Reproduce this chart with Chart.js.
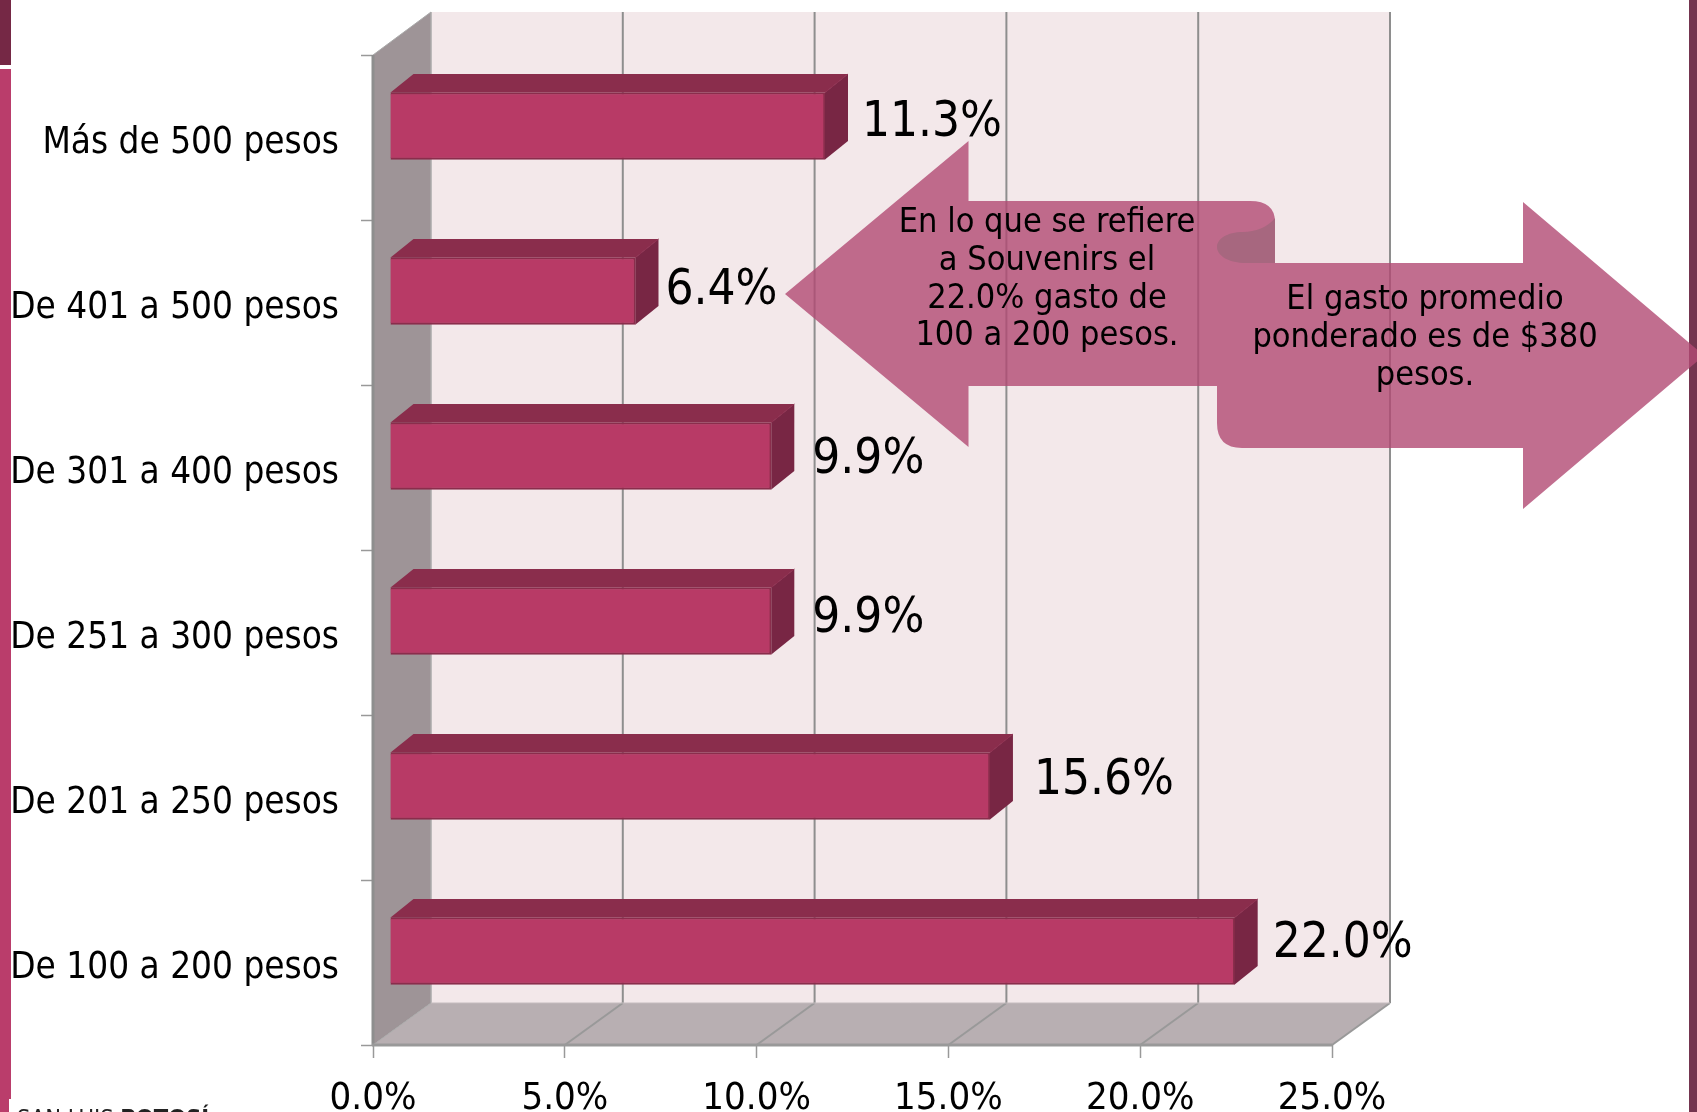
<!DOCTYPE html>
<html><head><meta charset="utf-8">
<style>html,body{margin:0;padding:0;background:#fff;overflow:hidden}canvas{display:block}</style>
<script src="https://cdn.jsdelivr.net/npm/chart.js@4"></script>
</head><body><canvas id="c" width="1697" height="1112"></canvas>
<script>
const categories = ["Más de 500 pesos","De 401 a 500 pesos","De 301 a 400 pesos","De 251 a 300 pesos","De 201 a 250 pesos","De 100 a 200 pesos"];
const gastoValues = [11.34,6.4,9.94,9.94,15.64,22.02];
const valueTicks = [0,5,10,15,20,25];
const noteLeft = ["En lo que se refiere","a Souvenirs el","22.0% gasto de","100 a 200 pesos."];
const noteRight = ["El gasto promedio","ponderado es de $380","pesos."];

const FF = '"DejaVu Sans Condensed","DejaVu Sans",sans-serif';
const DEPTH_X = 58, DEPTH_Y = 42, BAR_DX = 17, BAR_DY = -11.5, BAR_DEPTH_X = 23, BAR_DEPTH_Y = 18.5;
const LABEL_DX = [37,30,41,41,44,38], LABEL_DY = [-14.5,-11.5,-7.5,-13.5,-16.5,-18.5];

function poly(ctx, pts, fill){ ctx.beginPath(); pts.forEach((p,i)=> i?ctx.lineTo(p[0],p[1]):ctx.moveTo(p[0],p[1])); ctx.closePath(); ctx.fillStyle=fill; ctx.fill(); }
function line(ctx,x0,y0,x1,y1,color,w){ ctx.beginPath(); ctx.moveTo(x0,y0); ctx.lineTo(x1,y1); ctx.strokeStyle=color; ctx.lineWidth=w; ctx.stroke(); }

const frame3d = {
  id:'frame3d',
  beforeDraw(chart){
    const c = chart.ctx;
    c.save();
    c.fillStyle='#fff'; c.fillRect(0,0,chart.width,chart.height);
    c.fillStyle='#752845'; c.fillRect(0,0,11,65);
    c.fillStyle='#BA3D6B'; c.fillRect(0,69,11,1043);
    c.fillStyle='#74354F'; c.fillRect(1689,0,8,1112);
    c.restore();
  },
  beforeDatasetsDraw(chart){
    const c = chart.ctx, a = chart.chartArea, x = chart.scales.x;
    c.save();
    const L=a.left,R=a.right,T=a.top,B=a.bottom;
    poly(c,[[L+DEPTH_X,T-DEPTH_Y-1],[R+DEPTH_X,T-DEPTH_Y-1],[R+DEPTH_X,B-DEPTH_Y],[L+DEPTH_X,B-DEPTH_Y]],'#F3E8EA');
    poly(c,[[L,T],[L+DEPTH_X,T-DEPTH_Y-1],[L+DEPTH_X,B-DEPTH_Y],[L,B]],'#9E9497');
    poly(c,[[L,B],[L+DEPTH_X,B-DEPTH_Y],[R+DEPTH_X,B-DEPTH_Y],[R,B]],'#B8AFB2');
    valueTicks.forEach((v,i)=>{
      const px = x.getPixelForValue(v);
      if(i>0){ line(c,px+DEPTH_X,T-DEPTH_Y-1,px+DEPTH_X,B-DEPTH_Y,'#8E8E8E',2);
               line(c,px,B,px+DEPTH_X,B-DEPTH_Y,'#999',2); }
    });
    line(c,L,T,L+DEPTH_X,T-DEPTH_Y-1,'#aaa',1);
    line(c,L+DEPTH_X,T-DEPTH_Y-1,L+DEPTH_X,B-DEPTH_Y,'#aaa',1.5);
    line(c,L,T,L,B,'#8E8E8E',3);
    line(c,L,B,L+DEPTH_X,B-DEPTH_Y,'#aaa',1);
    line(c,L+DEPTH_X,B-DEPTH_Y,R+DEPTH_X,B-DEPTH_Y,'#c4bcbe',1);
    line(c,L-1,B,R,B,'#999',3);
    c.restore();
    c.save(); c.translate(BAR_DX,BAR_DY);
  },
  afterDatasetsDraw(chart){
    const c = chart.ctx;
    c.restore();
    c.save();
    chart.getDatasetMeta(0).data.forEach((el,i)=>{
      const h = el.height/2, x0=el.base+BAR_DX, x1=el.x+BAR_DX, t=el.y-h+BAR_DY, b=el.y+h+BAR_DY;
      poly(c,[[x0,t],[x0+BAR_DEPTH_X,t-BAR_DEPTH_Y],[x1+BAR_DEPTH_X,t-BAR_DEPTH_Y],[x1,t]],'#8A2D4C');
      poly(c,[[x1,t],[x1+BAR_DEPTH_X,t-BAR_DEPTH_Y],[x1+BAR_DEPTH_X,b-BAR_DEPTH_Y],[x1,b]],'#782644');
      line(c,x1,t,x1+BAR_DEPTH_X,t-BAR_DEPTH_Y,'#8F2F50',1);
      c.font='49px '+FF; c.fillStyle='#000'; c.textAlign='left'; c.textBaseline='middle';
      c.fillText(gastoValues[i].toFixed(1)+'%', x1+LABEL_DX[i], chart.scales.y.getPixelForValue(i)+LABEL_DY[i]);
    });
    c.restore();
  },
  afterDraw(chart){
    const c = chart.ctx;
    c.save();
    // callout arrows
    c.beginPath();
    c.moveTo(785,294); c.lineTo(968.5,141); c.lineTo(968.5,201); c.lineTo(1250,201);
    c.quadraticCurveTo(1275,201,1275,222); c.lineTo(1275,263);
    c.lineTo(1523,263); c.lineTo(1523,202); c.lineTo(1704,355.5); c.lineTo(1523,509); c.lineTo(1523,448);
    c.lineTo(1242,448); c.quadraticCurveTo(1217,448,1217,423); c.lineTo(1217,386);
    c.lineTo(968.5,386); c.lineTo(968.5,447); c.closePath();
    c.fillStyle='rgba(178,74,115,0.8)'; c.fill();
    c.beginPath();
    c.moveTo(1275,218); c.bezierCurveTo(1268,227,1255,232,1243,232);
    c.bezierCurveTo(1227,232,1217,239,1217,247); c.bezierCurveTo(1217,255,1227,262,1243,263);
    c.lineTo(1275,263); c.closePath();
    c.fillStyle='#A7677F'; c.fill();
    c.font='34px '+FF; c.fillStyle='#000'; c.textAlign='center'; c.textBaseline='middle';
    noteLeft.forEach((s,i)=>c.fillText(s,1047,223.5+i*37.7));
    noteRight.forEach((s,i)=>c.fillText(s,1425,300.5+i*37.7));
    // footer logo, cut by the page edge
    c.fillStyle='#fff'; c.fillRect(9,1099,240,13);
    c.font='23.5px '+FF; c.textAlign='left'; c.textBaseline='alphabetic'; c.fillStyle='#222';
    c.fillText('SAN LUIS ',17,1125.5);
    const w=c.measureText('SAN LUIS ').width;
    c.font='bold 23.5px '+FF; c.fillText('POTOSÍ',17+w,1125.5);
    c.restore();
  }
};

new Chart(document.getElementById('c'),{
  type:'bar',
  data:{labels:categories,datasets:[{data:gastoValues,backgroundColor:'#B83A66',borderColor:'#8A2D4C',borderWidth:2,barThickness:67,clip:false}]},
  plugins:[frame3d],
  options:{
    indexAxis:'y',responsive:false,animation:false,
    layout:{padding:{left:0,right:365,top:55,bottom:0}},
    plugins:{legend:{display:false},tooltip:{enabled:false}},
    scales:{
      x:{min:0,max:25,afterFit(s){s.height=67},afterBuildTicks(s){s.ticks=valueTicks.map(v=>({value:v}))},
         border:{display:false},grid:{drawOnChartArea:false,tickLength:13,tickColor:'#999',tickWidth:1.5},
         ticks:{maxRotation:0,padding:18,color:'#000',font:{family:FF,size:38},callback:v=>v.toFixed(1)+'%'}},
      y:{afterFit(s){s.width=373},border:{display:false},
         grid:{drawOnChartArea:false,tickLength:12,tickColor:'#999',tickWidth:1.5,offset:true},
         ticks:{padding:22,labelOffset:5.5,color:'#000',font:{family:FF,size:36.6},autoSkip:false}}
    }
  }
});
</script></body></html>
